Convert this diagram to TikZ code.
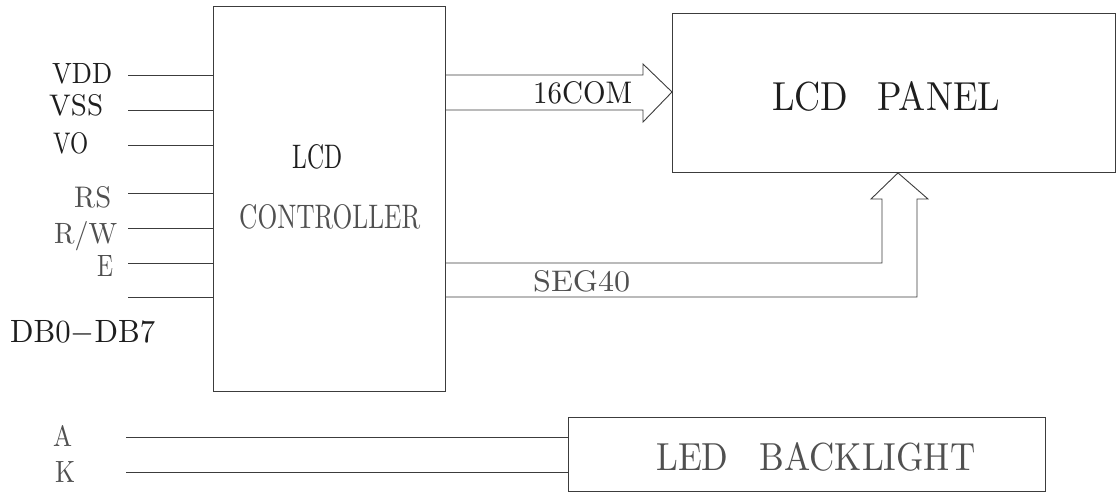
\documentclass[tikz,border=0pt]{standalone}
\usepackage{graphicx}
\definecolor{lc}{HTML}{3C3C3C}
\definecolor{dk}{HTML}{1E1E1E}
\definecolor{lt}{HTML}{505050}
\newcommand\fitlbl[3]{\resizebox{#1pt}{#2pt}{#3}}
\tikzset{
  box/.style={draw=lc, line width=0.9pt, inner sep=0pt, anchor=north west},
  lbl/.style={inner sep=0pt, anchor=north west},
  dk/.style={text=dk},
  lt/.style={text=lt},
  wire/.style={draw=lc, line width=0.9pt},
  hollow/.style={draw=lc, line width=0.9pt, line join=miter},
}
\begin{document}
\begin{tikzpicture}[x=1pt,y=-1pt]
\useasboundingbox (0,0) rectangle (1116,492);
% blocks
\node[box, minimum width=232pt, minimum height=385pt] (ctrl) at (213,6) {};
\node[box, minimum width=443pt, minimum height=159pt] (panel) at (672,13) {};
\node[box, minimum width=477pt, minimum height=74pt] (led) at (568,417) {};
% block texts
\node[lbl,dk] (tlcd) at (292,144.5) {\fitlbl{50}{24}{LCD}};
\node[lbl,lt] (tctrl) at (239,204.5) {\fitlbl{181}{24}{CONTROLLER}};
\node[lbl,dk] (tpanel) at (772,81.5) {\fitlbl{228}{29}{LCD\hspace{0.8em}PANEL}};
\node[lbl,lt] (tled) at (656,442.5) {\fitlbl{319}{28}{LED\hspace{0.9em}BACKLIGHT}};
% pin wires
\coordinate (pvdd) at (128,75);
\coordinate (pvss) at (128,110);
\coordinate (pvo)  at (128,145);
\coordinate (prs)  at (128,193);
\coordinate (prw)  at (128,228);
\coordinate (pe)   at (128,263);
\coordinate (pdb)  at (128,297);
\foreach \p in {pvdd,pvss,pvo,prs,prw,pe,pdb}
  \draw[wire] (\p) -- (\p -| ctrl.west);
\coordinate (pa) at (126,437);
\coordinate (pk) at (126,472);
\draw[wire] (pa) -- (pa -| led.west);
\draw[wire] (pk) -- (pk -| led.west);
% pin labels
\node[lbl,dk] (lvdd) at (52,63) {\fitlbl{60}{20}{VDD}};
\node[lbl,dk] (lvss) at (49,94.5) {\fitlbl{54}{21}{VSS}};
\node[lbl,dk] (lvo)  at (53,132.5) {\fitlbl{35}{21}{VO}};
\node[lbl,lt] (lrs)  at (74,186.5) {\fitlbl{37}{21}{RS}};
\node[lbl,lt] (lrw)  at (54,221) {\fitlbl{63}{22}{R/W}};
\node[lbl,lt] (le)   at (97,255) {\fitlbl{16}{21}{E}};
\node[lbl,dk] (ldb)  at (10,320) {\fitlbl{145}{22}{DB0$-$DB7}};
\node[lbl,lt] (la)   at (53,425) {\fitlbl{19}{21}{A}};
\node[lbl,lt] (lk)   at (55,461) {\fitlbl{20}{21}{K}};
% 16COM hollow arrow
\coordinate (c1) at (ctrl.east |- 0,75);
\coordinate (c2) at (ctrl.east |- 0,110);
\draw[hollow] (c1) -- (643,75) -- (643,64) -- (panel.west |- 0,92) -- (643,122) -- (643,110) -- (c2);
\node[lbl,dk] (tcom) at (533,81.5) {\fitlbl{99}{22}{16COM}};
% SEG40 hollow arrow
\coordinate (s1) at (ctrl.east |- 0,263);
\coordinate (s2) at (ctrl.east |- 0,297);
\draw[hollow] (s1) -- (882,263) -- (882,199) -- (871,199) -- (panel.south west -| 898,0) -- (928,199) -- (917,199) -- (917,297) -- (s2);
\node[lbl,lt] (tseg) at (533,270.5) {\fitlbl{97}{21}{SEG40}};
\end{tikzpicture}
\end{document}
